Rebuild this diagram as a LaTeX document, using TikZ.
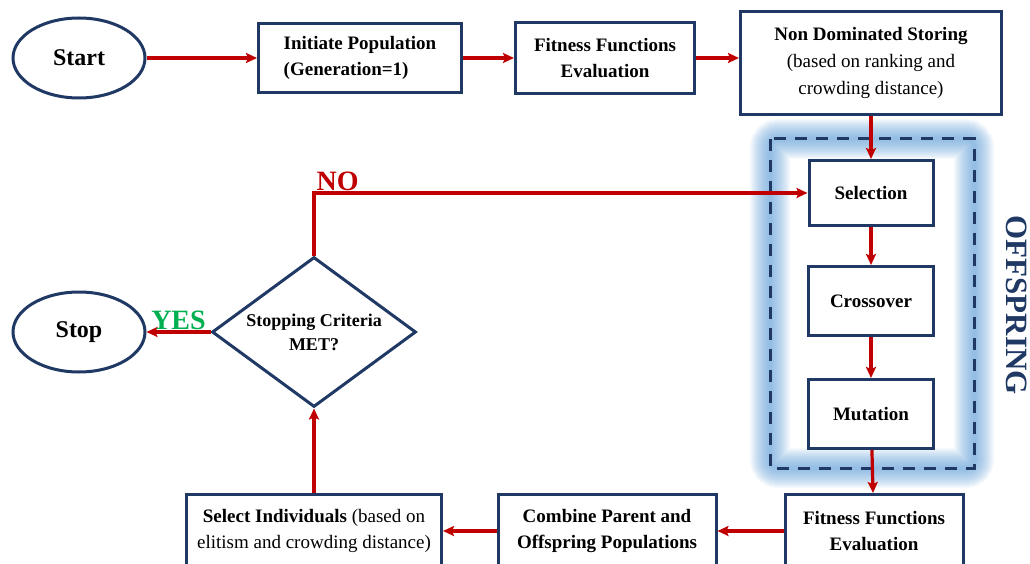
\documentclass[tikz,border=0pt]{standalone}
\usepackage{fontspec}
\setmainfont{Liberation Serif}
\usetikzlibrary{shapes.geometric, arrows.meta}
\definecolor{navy}{RGB}{31,56,100}
\definecolor{arrowred}{RGB}{192,0,0}
\definecolor{yesgreen}{RGB}{0,176,80}
\definecolor{glow}{RGB}{91,155,213}
\tikzset{
  box/.style={draw=navy, line width=3pt, fill=white, inner sep=0pt, align=center,
    font=\fontsize{19}{26}\selectfont\bfseries},
  term/.style={box, ellipse, minimum width=132pt, minimum height=80pt,
    font=\fontsize{24}{28}\selectfont\bfseries},
  flow/.style={draw=arrowred, line width=3.2pt, -{Stealth[length=11pt, width=10pt, inset=2pt]}},
  answer/.style={inner sep=1pt, font=\fontsize{28}{28}\selectfont\bfseries},
}

\begin{document}
\begin{tikzpicture}[x=1pt,y=-1pt]
      \useasboundingbox (0,0) rectangle (1030,564);
      \clip (0,0) rectangle (1030,564);
      % glowing frame round the offspring steps
      \foreach \w in {2,4,...,40}
        \draw[glow, line width=\w pt, opacity=0.05, rounded corners=8pt]
          (770,139) rectangle (974,468);
      \draw[navy, line width=3pt, dash pattern=on 12pt off 9pt] (770,139) rectangle (974,468);

      \node[term] (start) at (79,58) {Start};
      \node[box, minimum width=203pt, minimum height=69pt, align=left] (init) at (360,58)
        {Initiate Population\\(Generation=1)};
      \node[box, minimum width=179pt, minimum height=71pt] (fit1) at (605,58)
        {Fitness Functions\\Evaluation};
      \node[box, minimum width=261pt, minimum height=103pt, font=\fontsize{19}{27}\selectfont\bfseries]
        (nds) at (871,63) {Non Dominated Storing\\\mdseries (based on ranking and\\\mdseries crowding distance)};
      \node[box, minimum width=124pt, minimum height=65pt] (sel) at (871,193) {Selection};
      \node[box, minimum width=125pt, minimum height=69pt] (cross) at (871,301) {Crossover};
      \node[box, minimum width=125pt, minimum height=69pt] (mut) at (871,414) {Mutation};
      \node[box, minimum width=178pt, minimum height=73pt] (fit2) at (874,531)
        {Fitness Functions\\Evaluation};
      \node[box, minimum width=218pt, minimum height=73pt] (comb) at (607,531)
        {Combine Parent and\\Offspring Populations};
      \node[box, minimum width=255pt, minimum height=73pt] (selind) at (314,531)
        {Select Individuals {\mdseries (based on}\\\mdseries elitism and crowding distance)};
      \node[box, diamond, shape aspect=1.36, minimum width=204pt, minimum height=150pt,
        font=\fontsize{18}{24}\selectfont\bfseries] (crit) at (314,332) {Stopping Criteria\\MET?};
      \node[term] (stop) at (79,332) {Stop};
      \node[navy, rotate=-90, font=\fontsize{31}{31}\selectfont\bfseries] (offspring) at (1017,305)
        {OFFSPRING};

      \draw[flow] (start) -- (init);
      \draw[flow] (init) -- (fit1);
      \draw[flow] (fit1.east) -- (fit1.east -| nds.west);
      \draw[flow] (nds) -- (sel);
      \draw[flow] (sel) -- (cross);
      \draw[flow] (cross) -- (mut);
      \draw[flow] (mut) -- (fit2);
      \draw[flow] (fit2) -- (comb);
      \draw[flow] (comb) -- (selind);
      \draw[flow] (selind) -- (crit);
      \draw[flow] (crit) -- node[answer, above, yesgreen] (yes) {YES} (stop);
      \draw[flow] (crit.north) |- node[answer, above right, arrowred] (no) {NO} (sel.west);
    \end{tikzpicture}
\end{document}
